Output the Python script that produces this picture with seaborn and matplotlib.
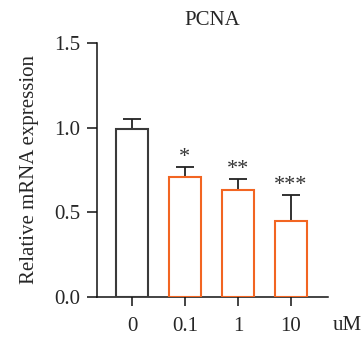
import matplotlib
matplotlib.use("Agg")
import matplotlib.pyplot as plt
import seaborn as sns
import pandas as pd

categories = ["0", "0.1", "1", "10"]
means = [0.99, 0.71, 0.63, 0.45]
errs = [0.063, 0.055, 0.065, 0.155]
stars = ["", "*", "**", "***"]
edge_colors = ["#3a3a3a", "#F26522", "#F26522", "#F26522"]

sns.set_style("ticks")
plt.rcParams['font.family'] = ['Liberation Serif', 'DejaVu Serif']

df = pd.DataFrame({"dose": categories, "value": means})

fig = plt.figure(figsize=(3.64, 3.42), dpi=100)
ax = fig.add_axes([0.2665, 0.1316, 0.6345, 0.7427])

sns.barplot(data=df, x="dose", y="value", order=categories, color="white",
            errorbar=None, width=0.6, ax=ax, linewidth=1.5, edgecolor="black")
for patch, c in zip(ax.patches, edge_colors):
    patch.set_edgecolor(c)
    patch.set_facecolor("white")
    patch.set_zorder(3)

xs = list(range(len(categories)))
ax.errorbar(xs, means, yerr=[[0] * 4, errs], fmt="none", ecolor="#222222",
            elinewidth=1.3, capsize=6.5, capthick=1.3, zorder=2)

for x, m, e, s in zip(xs, means, errs, stars):
    if s:
        ax.text(x, m + e + 0.0, s, ha="center", va="bottom", fontsize=16, color="#333333")

ax.set_ylim(0, 1.5)
ax.set_xlim(-0.66, 3.70)
ax.set_yticks([0, 0.5, 1.0, 1.5])
ax.set_yticklabels(["0.0", "0.5", "1.0", "1.5"])
ax.set_xlabel("")
ax.set_ylabel("Relative mRNA expression", fontsize=15, labelpad=11)
ax.set_title("PCNA", fontsize=15, pad=13)
sns.despine(ax=ax)
for sp in ["left", "bottom"]:
    ax.spines[sp].set_linewidth(1.1)
    ax.spines[sp].set_color("#111111")
ax.tick_params(axis="y", length=7, width=1.1, pad=5, labelsize=15, color="#111111")
ax.tick_params(axis="x", length=6.5, width=1.1, pad=8, labelsize=15, color="#111111")

fig.text(347 / 364, 1 - 325 / 342, "uM", ha="center", va="center", fontsize=15)

fig.savefig("out.png", dpi=100)
